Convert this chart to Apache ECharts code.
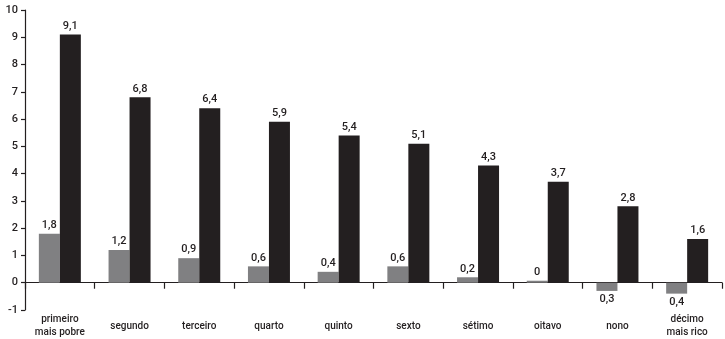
<!DOCTYPE html>
<html>
<head>
<meta charset="utf-8">
<script src="https://cdn.jsdelivr.net/npm/echarts@6/dist/echarts.min.js"></script>
<style>
html, body { margin: 0; padding: 0; background: #fff; }
#chart { width: 725px; height: 339px; }
</style>
</head>
<body>
<div id="chart"></div>
<script>
const categories = ['primeiro\nmais pobre', 'segundo', 'terceiro', 'quarto', 'quinto', 'sexto', 'sétimo', 'oitavo', 'nono', 'décimo\nmais rico']
const greyValues = [1.8, 1.2, 0.9, 0.6, 0.4, 0.6, 0.2, 0, -0.3, -0.4]
const blackValues = [9.1, 6.8, 6.4, 5.9, 5.4, 5.1, 4.3, 3.7, 2.8, 1.6]
const yTicks = [-1, 0, 1, 2, 3, 4, 5, 6, 7, 8, 9, 10]

const textColor = '#231f20'
const fontFamily = 'Roboto, "DejaVu Sans", sans-serif'

function fmt(v) {
    return String(Math.abs(v)).replace('.', ',')
}

function toItems(arr) {
    return arr.map(v => ({
        value: v,
        label: { position: v < 0 ? 'bottom' : 'top' }
    }))
}

const myChart = echarts.init(document.getElementById('chart'))
const option = {
    animation: false,
    grid: { left: 25, right: 3, top: 10, bottom: 29, containLabel: false, outerBoundsMode: 'none' },
    xAxis: {
        type: 'category',
        data: categories,
        axisLine: { onZero: true, lineStyle: { color: textColor, width: 1.2 } },
        axisTick: { show: true, length: 6, lineStyle: { color: textColor, width: 1.2 } },
        axisLabel: {
            color: textColor,
            fontSize: 10,
            fontWeight: 500,
            fontFamily: fontFamily,
            lineHeight: 13,
            margin: 16,
            verticalAlign: 'middle',
            interval: 0
        }
    },
    yAxis: {
        type: 'value',
        min: yTicks[0],
        max: yTicks[yTicks.length - 1],
        interval: 1,
        splitLine: { show: false },
        axisLine: { show: true, onZero: false, lineStyle: { color: textColor, width: 1.2 } },
        axisTick: { show: true, length: 4, lineStyle: { color: textColor, width: 1.2 } },
        axisLabel: {
            color: textColor,
            fontSize: 11,
            fontWeight: 500,
            fontFamily: fontFamily,
            margin: 7
        }
    },
    series: [
        {
            type: 'bar',
            data: toItems(greyValues),
            barWidth: 21,
            barGap: '0%',
            barMinHeight: 2,
            itemStyle: { color: '#808082' },
            label: {
                show: true,
                color: textColor,
                fontSize: 11,
                fontWeight: 500,
                fontFamily: fontFamily,
                distance: 3,
                formatter: p => fmt(p.value)
            }
        },
        {
            type: 'bar',
            data: toItems(blackValues),
            barWidth: 21,
            barGap: '0%',
            itemStyle: { color: '#231f20' },
            label: {
                show: true,
                color: textColor,
                fontSize: 11,
                fontWeight: 500,
                fontFamily: fontFamily,
                distance: 3,
                formatter: p => fmt(p.value)
            }
        }
    ]
}
myChart.setOption(option)
</script>
</body>
</html>
